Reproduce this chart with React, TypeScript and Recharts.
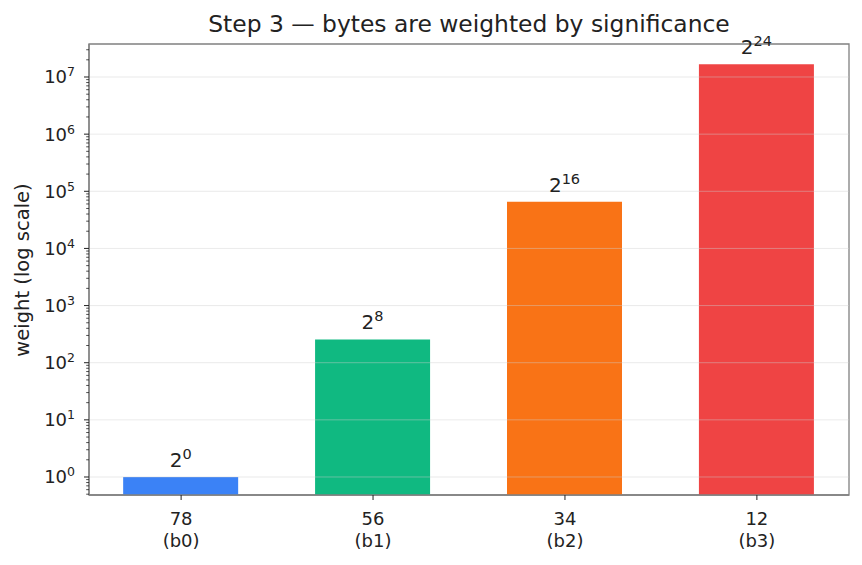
import React from "react";
import {
  BarChart,
  Bar,
  XAxis,
  YAxis,
  Cell,
  LabelList,
  ReferenceLine,
  ReferenceArea,
} from "recharts";

const byteValues = ["78", "56", "34", "12"];
const byteNames = ["(b0)", "(b1)", "(b2)", "(b3)"];
const exponents = [0, 8, 16, 24];
const weights = [1, 256, 65536, 16777216];
const barColors = ["#3b82f6", "#10b981", "#f97316", "#ef4444"];

const majorExps = [0, 1, 2, 3, 4, 5, 6, 7];
const yMin = 0.484;
const yMax = 3.78e7;
const xMin = -0.48;
const xMax = 3.48;

// major + minor log ticks inside the domain
const yTicks: number[] = [];
for (let e = -1; e <= 7; e++) {
  for (let m = 1; m <= 9; m++) {
    const v = m * Math.pow(10, e);
    if (v >= yMin && v <= yMax) yTicks.push(v);
  }
}

const data = byteValues.map((b, i) => ({
  pos: i,
  byte: b,
  name: byteNames[i],
  exp: exponents[i],
  weight: weights[i],
}));

const FONT = "'DejaVu Sans', sans-serif";
const INK = "#222";
const FRAME = "#808080";

function YTick(props: any) {
  const { x, y, payload } = props;
  const v = payload.value;
  const lg = Math.log10(v);
  const major = Math.abs(lg - Math.round(lg)) < 1e-6;
  return (
    <g>
      <line x1={x - (major ? 5 : 2.8)} x2={x} y1={y} y2={y} stroke={INK} strokeWidth={major ? 1 : 0.8} />
      {major && (
        <text x={x - 14} y={y + 6.5} textAnchor="end" fontFamily={FONT} fontSize={18} fill={INK}>
          <tspan>10</tspan>
          <tspan dy={-7} fontSize={12.5}>{Math.round(lg)}</tspan>
        </text>
      )}
    </g>
  );
}

function XTick(props: any) {
  const { x, y, payload } = props;
  const i = payload.value as number;
  return (
    <g>
      <line x1={x} x2={x} y1={y} y2={y + 5} stroke={INK} strokeWidth={1} />
      <text x={x} y={y + 30} textAnchor="middle" fontFamily={FONT} fontSize={18} fill={INK}>
        {byteValues[i]}
      </text>
      <text x={x} y={y + 52} textAnchor="middle" fontFamily={FONT} fontSize={18} fill={INK}>
        {byteNames[i]}
      </text>
    </g>
  );
}

function PowerLabel(props: any) {
  const { x, y, width, value } = props;
  return (
    <text x={x + width / 2} y={y - 10} textAnchor="middle" fontFamily={FONT} fontSize={20} fill={INK}>
      <tspan>2</tspan>
      <tspan dy={-8} fontSize={14.5}>{value}</tspan>
    </text>
  );
}

export default function App() {
  return (
    <div style={{ position: "absolute", left: 0, top: 0, width: 862, height: 565, background: "#fff" }}>
      <div
        style={{
          position: "absolute",
          left: 89,
          width: 760,
          top: 10.3,
          textAlign: "center",
          fontFamily: FONT,
          fontSize: 23.4,
          color: INK,
          whiteSpace: "nowrap",
        }}
      >
        Step 3 — bytes are weighted by significance
      </div>
      <div
        style={{
          position: "absolute",
          left: 21.5,
          top: 270,
          transform: "translate(-50%, -50%) rotate(-90deg)",
          whiteSpace: "nowrap",
          fontFamily: FONT,
          fontSize: 19.5,
          color: INK,
        }}
      >
        weight (log scale)
      </div>
      <BarChart
        width={862}
        height={565}
        data={data}
        margin={{ top: 44, right: 13, bottom: 0, left: 0 }}
        style={{ position: "absolute", left: 0, top: 0 }}
      >
        <XAxis
          dataKey="pos"
          type="number"
          domain={[xMin, xMax]}
          ticks={[0, 1, 2, 3]}
          allowDataOverflow
          height={70}
          tickLine={false}
          tickSize={0}
          tickMargin={0}
          axisLine={{ stroke: FRAME, strokeWidth: 1.3 }}
          tick={<XTick />}
          interval={0}
        />
        <YAxis
          scale="log"
          type="number"
          domain={[yMin, yMax]}
          allowDataOverflow
          ticks={yTicks}
          interval={0}
          width={89}
          tickLine={false}
          tickSize={0}
          tickMargin={0}
          axisLine={{ stroke: FRAME, strokeWidth: 1.3 }}
          tick={<YTick />}
        />
        <Bar dataKey="weight" barSize={115} isAnimationActive={false}>
          {data.map((d, i) => (
            <Cell key={d.byte} fill={barColors[i]} />
          ))}
          <LabelList dataKey="exp" content={<PowerLabel />} />
        </Bar>
        {majorExps.map((e) => (
          <ReferenceLine key={e} y={Math.pow(10, e)} stroke="#cfcfcf" strokeOpacity={0.55} strokeWidth={0.8} />
        ))}
        <ReferenceArea
          x1={xMin}
          x2={xMax}
          y1={yMin}
          y2={yMax}
          fill="none"
          stroke={FRAME}
          strokeWidth={1.3}
          ifOverflow="visible"
        />
      </BarChart>
    </div>
  );
}
